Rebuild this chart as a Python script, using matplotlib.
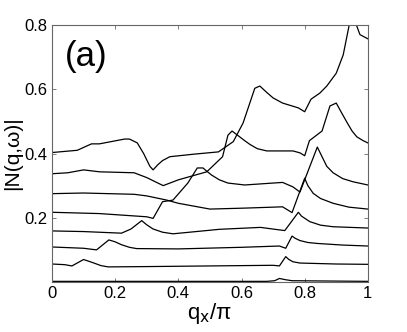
import matplotlib
matplotlib.use("Agg")
import matplotlib.pyplot as plt

# curves from bottom to top: q_x / pi and |N(q,w)|
q1 = [0, 0.68, 0.705, 0.72, 0.74, 0.76, 1.0]
n1 = [0.002, 0.002, 0.004, 0.011, 0.007, 0.004, 0.002]

q2 = [0, 0.04, 0.063, 0.1, 0.13, 0.155, 0.178, 0.3, 0.5, 0.7, 0.72, 0.74, 0.75, 0.763, 0.785, 0.9, 1.0]
n2 = [0.056, 0.054, 0.05, 0.07, 0.06, 0.051, 0.047, 0.048, 0.05, 0.052, 0.05, 0.079, 0.07, 0.063, 0.059,
      0.056, 0.055]

q3 = [0, 0.1, 0.141, 0.18, 0.2, 0.22, 0.245, 0.268, 0.4, 0.6, 0.72, 0.74, 0.76, 0.77, 0.785, 0.81,
      0.84, 0.92, 1.0]
n3 = [0.109, 0.105, 0.1, 0.131, 0.125, 0.116, 0.108, 0.104, 0.103, 0.108, 0.112, 0.105, 0.143, 0.136,
      0.129, 0.123, 0.12, 0.115, 0.112]

q4 = [0, 0.1, 0.22, 0.25, 0.284, 0.3, 0.32, 0.35, 0.383, 0.53, 0.66, 0.737, 0.78, 0.79, 0.816, 0.85,
      0.89, 1.0]
n4 = [0.159, 0.157, 0.152, 0.165, 0.191, 0.178, 0.165, 0.155, 0.15, 0.164, 0.17, 0.16, 0.217, 0.205,
      0.188, 0.177, 0.172, 0.168]

q5 = [0, 0.15, 0.3, 0.32, 0.35, 0.383, 0.43, 0.46, 0.478, 0.49, 0.505, 0.53, 0.557, 0.61, 0.73, 0.763,
      0.785, 0.84, 0.85, 0.87, 0.89, 0.92, 0.953, 1.0]
n5 = [0.217, 0.213, 0.203, 0.198, 0.25, 0.255, 0.308, 0.355, 0.355, 0.345, 0.333, 0.318, 0.308, 0.302,
      0.31, 0.296, 0.28, 0.42, 0.4, 0.36, 0.34, 0.322, 0.312, 0.302]

q6 = [0, 0.1, 0.26, 0.3, 0.363, 0.4, 0.5, 0.61, 0.73, 0.76, 0.80, 0.81, 0.827, 0.85, 0.89, 0.94, 1.0]
n6 = [0.275, 0.277, 0.273, 0.268, 0.255, 0.245, 0.227, 0.23, 0.234, 0.216, 0.323, 0.3, 0.276, 0.26,
      0.245, 0.233, 0.227]

q7 = [0, 0.05, 0.1, 0.15, 0.26, 0.3, 0.352, 0.4, 0.49, 0.54, 0.557, 0.57, 0.59, 0.61, 0.627, 0.65,
      0.68, 0.763, 0.785, 0.80, 0.815, 0.855, 0.88, 0.9, 0.915, 0.935, 0.95, 0.965, 0.985, 1.0]
n7 = [0.337, 0.34, 0.349, 0.343, 0.34, 0.325, 0.30, 0.318, 0.343, 0.39, 0.457, 0.47, 0.455, 0.44,
      0.428, 0.415, 0.408, 0.408, 0.402, 0.393, 0.44, 0.47, 0.548, 0.557, 0.53, 0.495, 0.47, 0.452,
      0.44, 0.433]

q8 = [0, 0.08, 0.125, 0.15, 0.23, 0.245, 0.27, 0.29, 0.31, 0.32, 0.335, 0.35, 0.373, 0.45, 0.527,
      0.574, 0.605, 0.642, 0.658, 0.68, 0.7, 0.73, 0.76, 0.78, 0.80, 0.82, 0.848, 0.87, 0.9, 0.922,
      0.943, 0.96, 0.975, 1.0]
n8 = [0.403, 0.41, 0.43, 0.43, 0.445, 0.445, 0.433, 0.4, 0.36, 0.349, 0.365, 0.378, 0.39, 0.398, 0.405,
      0.437, 0.495, 0.603, 0.61, 0.59, 0.573, 0.557, 0.548, 0.542, 0.53, 0.569, 0.588, 0.61, 0.65, 0.707,
      0.81, 0.81, 0.77, 0.757]

curves = [(q1, n1), (q2, n2), (q3, n3), (q4, n4), (q5, n5), (q6, n6), (q7, n7), (q8, n8)]

plt.rcParams['font.family'] = ['Liberation Sans', 'DejaVu Sans']

fig = plt.figure(figsize=(4.07, 3.32), dpi=100)
ax = fig.add_axes([0.1278, 0.1506, 0.776, 0.7741])

for q, n in curves:
    ax.plot(q, n, color='black', linewidth=0.9)

ax.set_xlim(0, 1)
ax.set_ylim(0, 0.8)
ax.set_xticks([0, 0.2, 0.4, 0.6, 0.8, 1])
ax.set_xticklabels(["0", "0.2", "0.4", "0.6", "0.8", "1"])
ax.set_yticks([0.2, 0.4, 0.6, 0.8])
ax.set_yticklabels(["0.2", "0.4", "0.6", "0.8"])
ax.tick_params(direction='in', length=3, width=0.6, color='#666666',
               top=True, right=True, labelsize=12, pad=3)
for s in ax.spines.values():
    s.set_color('#666666')
    s.set_linewidth(0.8)

ax.set_xlabel(r"q$_{\rm x}$/π", fontsize=16, labelpad=0)
ax.set_ylabel("|N(q,ω)|", fontsize=15, labelpad=2)
ax.text(0.04, 0.84, "(a)", transform=ax.transAxes, fontsize=25)

fig.savefig("out.png", dpi=100)
